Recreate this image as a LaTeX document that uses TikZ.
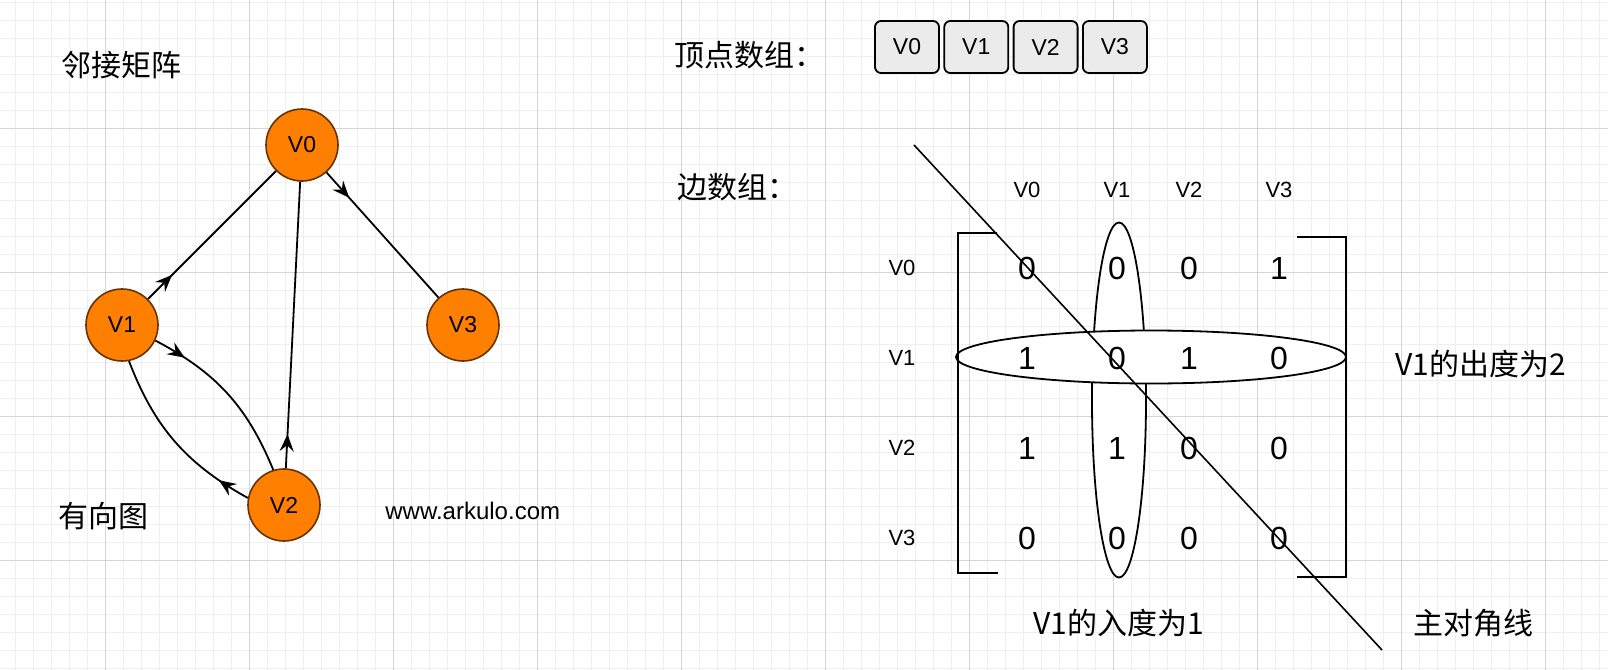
\documentclass[tikz,border=0pt]{standalone}
\usepackage{fontspec}
\setmainfont{Liberation Sans}
\newfontfamily\cjk{Noto Sans CJK SC}
\usetikzlibrary{arrows.meta,positioning,shapes.geometric,decorations.markings}

\definecolor{vfill}{HTML}{FF8000}
\definecolor{vline}{HTML}{663300}
\definecolor{boxfill}{HTML}{EBEBEB}
\definecolor{gridminor}{HTML}{EFEFEF}
\definecolor{gridmajor}{HTML}{D5D5D5}

\begin{document}
\begin{tikzpicture}[
  x=0.5pt, y=-0.5pt,
  >={Stealth[length=8.5pt,width=7pt,inset=3pt]},
  vert/.style={circle, draw=vline, fill=vfill, line width=0.8pt, minimum size=36pt, inner sep=0pt, font=\fontsize{11.5}{13}\selectfont},
  cellbox/.style={draw, rounded corners=3pt, fill=boxfill, line width=0.9pt, minimum width=32pt, minimum height=26pt, inner sep=0pt, font=\fontsize{11.5}{13}\selectfont},
  hdr/.style={inner sep=0pt, font=\fontsize{11}{13}\selectfont},
  cell/.style={inner sep=0pt, font=\fontsize{16}{18}\selectfont},
  note/.style={anchor=west, inner sep=0pt, font=\cjk\fontsize{15}{18}\selectfont},
  ring/.style={ellipse, draw, fill=white, line width=0.9pt, inner sep=0pt},
  bracket/.style={line width=1.1pt},
  edgearr/.style={line width=0.9pt, postaction={decorate},
    decoration={markings, mark=at position 17pt with {\arrow{>}}}}
]
\useasboundingbox (0,0) rectangle (1608,670);
\fill[white] (0,0) rectangle (1608,670);

% background grid
\foreach \x in {15,33,...,1599} \draw[gridminor, line width=0.5pt] (\x,0) -- (\x,670);
\foreach \y in {2,20,...,668} \draw[gridminor, line width=0.5pt] (0,\y) -- (1608,\y);
\foreach \x in {105,249,...,1545} \draw[gridmajor, line width=0.5pt] (\x,0) -- (\x,670);
\foreach \y in {128,272,...,560} \draw[gridmajor, line width=0.5pt] (0,\y) -- (1608,\y);

% directed graph
\node[note] (title) at (61,65) {邻接矩阵};
\node[vert] (v0) at (302,145) {V0};
\node[vert] (v1) at (122,325) {V1};
\node[vert] (v2) at (284,505) {V2};
\node[vert] (v3) at (463,325) {V3};

\draw[edgearr] (v0) -- (v3);
\draw[edgearr] (v1) -- (v0);
\draw[edgearr] (v2) -- (v0);
\draw[edgearr] (v1.-25) to[bend left=20] (v2.107);
\draw[edgearr] (v2.169) to[bend left=20] (v1.-79);

\node[note] (kind) at (58,516) {有向图};
\node[anchor=west, inner sep=0pt, font=\fontsize{12}{14}\selectfont] (site) at (385,511) {www.arkulo.com};

% vertex array
\node[note] (vlabel) at (674,55) {顶点数组：};
\node[cellbox] (a0) at (907,47) {V0};
\node[cellbox, right=1.75pt of a0] (a1) {V1};
\node[cellbox, right=1.75pt of a1] (a2) {V2};
\node[cellbox, right=1.75pt of a2] (a3) {V3};

% edge array
\node[note] (elabel) at (677,187) {边数组：};

% in-degree column and out-degree row
\node[ring, minimum width=27pt, minimum height=177.5pt] (colring) at (1119,400) {};
\node[ring, minimum width=195pt, minimum height=26.5pt] (rowring) at (1151,357) {};

\draw[bracket] (997,233) -- (958,233) -- (958,573) -- (998,573);
\draw[bracket] (1297,237) -- (1346,237) -- (1346,577) -- (1297,577);

\foreach \c/\x in {0/1027,1/1117,2/1189,3/1279}
  \node[hdr] (col\c) at (\x,190) {V\c};
\foreach \r/\y in {0/268,1/358,2/448,3/538}
  \node[hdr] (row\r) at (902,\y) {V\r};
\foreach \r/\vals in {0/{0,0,0,1},1/{1,0,1,0},2/{1,1,0,0},3/{0,0,0,0}}
  \foreach \v [count=\c from 0] in \vals
    \node[cell] (m\r\c) at (col\c |- row\r) {\v};

% main diagonal
\coordinate (dgtop) at (914,145);
\coordinate (dgend) at (1382,650);
\draw[line width=0.8pt] (dgtop) -- (dgend);

\node[note] (outdeg) at (1395,364) {V1的出度为2};
\node[note] (indeg) at (1033,623) {V1的入度为1};
\node[note] (diag) at (1413,623) {主对角线};
\end{tikzpicture}
\end{document}
